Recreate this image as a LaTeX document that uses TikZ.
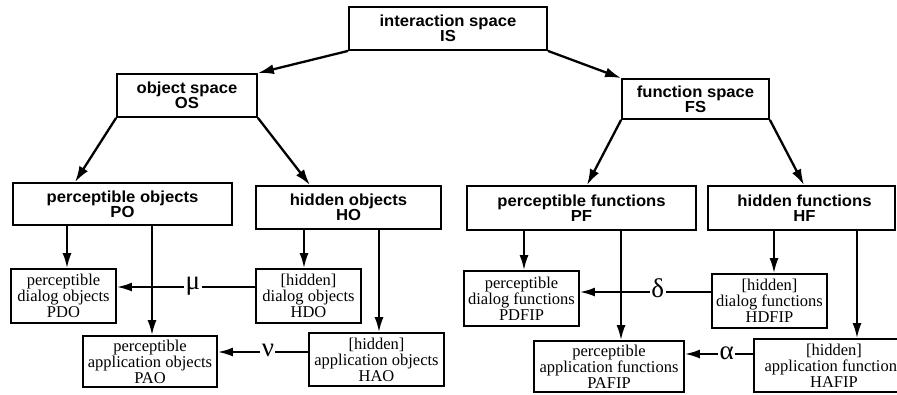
\documentclass[tikz,border=0pt]{standalone}
\usepackage{fontspec}
\setmainfont{Liberation Serif}
\newfontfamily\hvfont[FakeStretch=1.04]{Liberation Sans}
\newfontfamily\grkfont{Liberation Serif}
\usetikzlibrary{arrows.meta}
\begin{document}
\begin{tikzpicture}[x=1pt,y=-1pt,
  topbox/.style={draw, line width=1.8pt, inner sep=0pt, align=center,
    font=\hvfont\fontsize{16}{15}\bfseries\selectfont},
  lowbox/.style={draw, line width=1.8pt, inner sep=0pt, align=center,
    font=\fontsize{16.5}{16}\selectfont},
  bigarr/.style={line width=2.3pt, -{Latex[length=16pt,width=10pt]}},
  arr/.style={line width=2pt, -{Latex[length=15pt,width=9pt]}},
  glabel/.style={fill=white, inner sep=1.5pt, anchor=base,
    font=\grkfont\fontsize{27}{27}\selectfont}]
\useasboundingbox (0,0) rectangle (897,394);
\clip (0,0) rectangle (897,394);
% top levels
\node[topbox, minimum width=198pt, minimum height=43pt] (is) at (448,28.5) {interaction space\\IS};
\node[topbox, minimum width=140pt, minimum height=43pt] (os) at (187,95.5) {object space\\OS};
\node[topbox, minimum width=147pt, minimum height=40pt] (fs) at (695.5,99) {function space\\FS};
\node[topbox, minimum width=219pt, minimum height=42pt] (po) at (122.5,204) {perceptible objects\\PO};
\node[topbox, minimum width=185pt, minimum height=43pt] (ho) at (348.5,207.5) {hidden objects\\HO};
\node[topbox, minimum width=229pt, minimum height=44pt] (pf) at (581.5,208) {perceptible functions\\PF};
\node[topbox, minimum width=187pt, minimum height=44pt] (hf) at (801.5,208) {\hspace*{6pt}hidden functions\\\hspace*{6pt}HF};
% low levels
\node[lowbox, minimum width=105pt, minimum height=54pt] (pdo) at (63.5,296) {perceptible\\dialog objects\\PDO};
\node[lowbox, minimum width=105pt, minimum height=54pt] (hdo) at (308.5,296) {[hidden]\\dialog objects\\HDO};
\node[lowbox, minimum width=134pt, minimum height=51pt] (pao) at (150,361.5) {perceptible\\application objects\\PAO};
\node[lowbox, minimum width=135pt, minimum height=53pt] (hao) at (376.5,359.5) {[hidden]\\application objects\\HAO};
\node[lowbox, minimum width=115pt, minimum height=55pt] (pdfip) at (521.5,298.5) {perceptible\\dialog functions\\PDFIP};
\node[lowbox, minimum width=115pt, minimum height=54pt] (hdfip) at (769.5,301) {[hidden]\\dialog functions\\HDFIP};
\node[lowbox, minimum width=150pt, minimum height=51pt] (pafip) at (609,366.5) {perceptible\\application functions\\PAFIP};
\node[lowbox, minimum width=160pt, minimum height=53pt] (hafip) at (834,365.5) {[hidden]\\application functions\\HAFIP};
% top arrows
\draw[bigarr] (is.south west) -- (os.north east);
\draw[bigarr] (is.south east) -- (fs.north west);
\draw[bigarr] (os.south west) -- ([xshift=-47.5pt]po.north);
\draw[bigarr] (os.south east) -- ([xshift=-38.5pt]ho.north);
\draw[bigarr] (fs.south west) -- ([xshift=5.5pt]pf.north);
\draw[bigarr] (fs.south east) -- ([xshift=2.5pt]hf.north);
% vertical connectors
\coordinate (v1) at (67,0);
\coordinate (v2) at (152,0);
\coordinate (v3) at (304,0);
\coordinate (v4) at (379,0);
\coordinate (v5) at (524,0);
\coordinate (v6) at (621,0);
\coordinate (v7) at (774,0);
\coordinate (v8) at (857,0);
\draw[arr] (po.south -| v1) -- (pdo.north -| v1);
\draw[arr] (po.south -| v2) -- (pao.north -| v2);
\draw[arr] (ho.south -| v3) -- (hdo.north -| v3);
\draw[arr] (ho.south -| v4) -- (hao.north -| v4);
\draw[arr] (pf.south -| v5) -- (pdfip.north -| v5);
\draw[arr] (pf.south -| v6) -- (pafip.north -| v6);
\draw[arr] (hf.south -| v7) -- (hdfip.north -| v7);
\draw[arr] (hf.south -| v8) -- (hafip.north -| v8);
% horizontal mappings
\coordinate (hmu) at (0,287);
\coordinate (hnu) at (0,352);
\coordinate (hdelta) at (0,292);
\coordinate (halpha) at (0,354);
\draw[arr] (hdo.west |- hmu) -- node[glabel, pos=0.45, yshift=-2pt] (mu) {μ} (pdo.east |- hmu);
\draw[arr] (hao.west |- hnu) -- node[glabel, pos=0.446, yshift=-4pt] (nu) {ν} (pao.east |- hnu);
\draw[arr] (hdfip.west |- hdelta) -- node[glabel, pos=0.406, yshift=-5pt] (delta) {δ} (pdfip.east |- hdelta);
\draw[arr] (hafip.west |- halpha) -- node[glabel, pos=0.386, yshift=-5pt] (alpha) {α} (pafip.east |- halpha);
\end{tikzpicture}
\end{document}
